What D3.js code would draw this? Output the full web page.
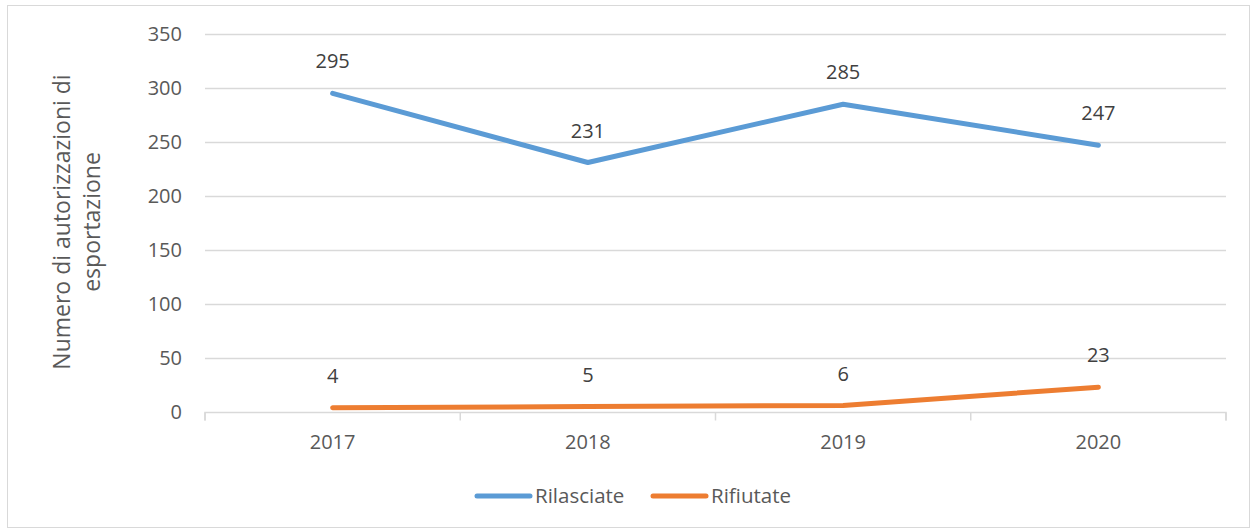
<!DOCTYPE html>
<html><head><meta charset="utf-8">
<script src="https://cdn.jsdelivr.net/npm/d3@7"></script>
<style>body{margin:0;background:#fff;}svg{display:block;font-family:"Open Sans",sans-serif;}</style>
</head><body><svg id="c" width="1253" height="531"></svg>
<script>
const categories = ["2017","2018","2019","2020"];
const rilasciate = [295,231,285,247];
const rifiutate = [4,5,6,23];
const yTicks = [0,50,100,150,200,250,300,350];
const seriesNames = ["Rilasciate","Rifiutate"];
const colors = ["#5B9BD5","#ED7D31"];

const svg = d3.select("#c");
svg.append("rect").attr("x",7.5).attr("y",5.5).attr("width",1242).attr("height",522)
  .attr("fill","#fff").attr("stroke","#D9D9D9");

const x = d3.scaleBand().domain(categories).range([205,1226]);
const y = d3.scaleLinear().domain([0,350]).range([412,34]);

// gridlines
svg.append("g").selectAll("line").data(yTicks.filter(d=>d>0)).join("line")
  .attr("x1",205).attr("x2",1226).attr("y1",d=>Math.round(y(d))+0.5).attr("y2",d=>Math.round(y(d))+0.5)
  .attr("stroke","#D9D9D9").attr("stroke-width",1.5);

// y labels
svg.append("g").selectAll("text").data(yTicks).join("text")
  .attr("x",182).attr("y",d=>y(d)).attr("dy","0.35em").attr("text-anchor","end")
  .attr("font-size",20).attr("fill","#595959").text(d=>d);

// x axis
const xa = svg.append("g").attr("transform","translate(0,412.5)")
  .call(d3.axisBottom(x).tickSize(0).tickPadding(22));
xa.select(".domain").attr("stroke","#D9D9D9").attr("stroke-width",1.5).attr("d","M205,8V0H1226V8");
xa.selectAll("text").attr("font-size",20).attr("fill","#595959").attr("font-family","Open Sans");
const bounds = categories.map(c=>x(c)).concat([x.range()[1]]);
xa.selectAll("line.tk").data(bounds).join("line").attr("class","tk")
  .attr("x1",d=>d).attr("x2",d=>d).attr("y1",0).attr("y2",8).attr("stroke","#D9D9D9").attr("stroke-width",1.5);

// axis title
const tt = svg.append("text").attr("transform","translate(77,222) rotate(-90)")
  .attr("text-anchor","middle").attr("font-size",23).attr("fill","#595959");
tt.append("tspan").attr("x",0).attr("dy","-0.3em").text("Numero di autorizzazioni di");
tt.append("tspan").attr("x",0).attr("dy","1.3em").text("esportazione");

// lines
const cx = c=>x(c)+x.bandwidth()/2;
const line = d3.line().x((d,i)=>cx(categories[i])).y(d=>y(d));
[rilasciate,rifiutate].forEach((s,k)=>{
  svg.append("path").datum(s).attr("d",line).attr("fill","none")
    .attr("stroke",colors[k]).attr("stroke-width",5).attr("stroke-linecap","round").attr("stroke-linejoin","round");
  svg.append("g").selectAll("text").data(s).join("text")
    .attr("x",(d,i)=>cx(categories[i])).attr("y",d=>y(d)-25).attr("text-anchor","middle")
    .attr("font-size",20).attr("fill","#404040").text(d=>d);
});

// legend
const lg = [{x:477,tx:535},{x:653,tx:711}];
seriesNames.forEach((n,k)=>{
  svg.append("line").attr("x1",lg[k].x).attr("x2",lg[k].x+53).attr("y1",496).attr("y2",496)
    .attr("stroke",colors[k]).attr("stroke-width",5).attr("stroke-linecap","round");
  svg.append("text").attr("x",lg[k].tx).attr("y",496).attr("dy","0.35em")
    .attr("font-size",20.5).attr("fill","#595959").text(n);
});
</script></body></html>
